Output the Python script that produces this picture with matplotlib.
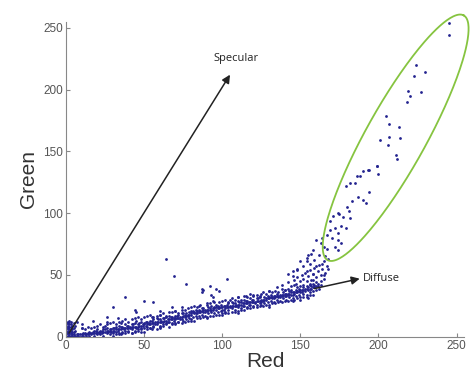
import matplotlib as mpl
mpl.use('Agg')
import matplotlib.pyplot as plt
import numpy as np

# pixel pairs as (red, green)
origin_pts = [(0,0),(0,2),(0,4),(0,6),(0,8),(1,1),(1,3),(1,5),(1,7),(1,9),(2,2),(2,4),(2,6),(2,10),
              (3,3),(3,5),(3,8),(3,12),(4,2),(4,6),(4,9),(5,4),(5,7),(5,11),(6,5),(6,9),(7,12),(1,12),
              (2,13),(0,10),(1,0),(2,1),(3,1),(4,4),(0,12),(1,11),(2,8),(3,10)]

band_pts = [(5,1),(6,0),(7,2),(8,1),(9,0),(10,2),(11,1),(12,3),(13,1),(14,2),(15,4),(15,1),(16,2),(17,3),
            (18,1),(18,5),(19,3),(20,2),(20,6),(21,4),(22,2),(22,5),(23,3),(24,6),(24,1),(25,4),(26,7),
            (26,3),(27,5),(28,2),(28,6),(29,4),(30,7),(30,3),
            (31,5),(32,8),(32,4),(33,6),(34,3),(34,9),(35,6),(36,8),(36,4),(37,7),(38,5),(38,10),(39,7),
            (40,9),(40,5),(41,7),(42,10),(42,6),(43,8),(44,5),(44,11),(45,8),(46,10),(46,6),(47,9),(48,7),
            (48,12),(49,9),(50,11),(50,7),(35,2),(42,3),(48,4),(55,6),
            (51,9),(52,12),(52,8),(53,10),(54,13),(54,7),(55,11),(56,9),(56,14),(57,12),(58,10),(58,15),
            (59,12),(60,14),(60,9),(61,12),(62,15),(62,10),(63,13),(64,11),(64,16),(65,14),(66,12),(66,17),
            (67,14),(68,16),(68,11),(69,13),(70,17),(70,14),(71,15),(72,18),(72,12),(73,16),(74,19),(74,14),
            (75,17),(75,13),
            (76,16),(77,19),(77,14),(78,17),(79,20),(79,15),(80,18),(81,16),(81,21),(82,19),(83,17),(83,22),
            (84,19),(85,17),(85,22),(86,20),(87,18),(87,23),(88,20),(89,22),(89,17),(90,21),(91,19),(91,24),
            (92,22),(93,20),(93,25),(94,22),(95,19),(95,24),(96,22),(97,25),(97,20),(98,23),(99,21),(99,26),
            (100,24),(100,19),
            (101,22),(102,25),(102,20),(103,24),(104,27),(104,22),(105,25),(106,23),(106,28),(107,25),
            (108,27),(108,22),(109,26),(110,24),(110,29),(111,26),(112,28),(112,23),(113,27),(114,25),
            (114,30),(115,27),(116,29),(116,24),(117,28),(118,26),(118,31),(119,28),(120,30),(120,25),
            (121,28),(122,31),(122,26),(123,29),(124,27),(124,32),(125,30),(125,26),
            (126,29),(127,32),(127,27),(128,30),(129,33),(129,28),(130,31),(131,29),(131,34),(132,31),
            (133,33),(133,28),(134,32),(135,30),(135,35),(136,32),(137,34),(137,29),(138,33),(139,31),
            (139,36),(140,33),(141,35),(141,30),(142,34),(143,32),(143,37),(144,34),(145,36),(145,31),
            (146,35),(147,33),(147,38),(148,36),(149,34),(149,39),(150,36),(150,32),(151,38),(152,35),
            (152,40),(153,37),(154,34),(154,41),(155,38),(156,36),(156,42),(157,39),(158,37),(158,43),
            (159,40),(160,38),(160,44),(161,41),(162,39),(163,42),
            (4,1),(6,1),(8,2),(10,1),(12,2),(14,3),(16,3),(18,3),(20,4),(22,4),(24,4),(26,5),(28,5),(30,5),
            (32,6),(34,6),(36,7),(38,7),(40,7),(42,8),(44,8),(46,8),(48,9),(50,10),(52,10),(54,10),(56,11),
            (58,12),(60,12),(62,12),(64,13),(66,14),(68,14),(70,15),(72,15),(74,16),(76,18),(78,18),(80,19),
            (82,20),(84,21),(86,21),(88,22),(90,22),(92,23),(94,23),(96,24),(98,24),(100,22),(102,23),
            (104,24),(106,25),(108,25),(110,26),(112,26),(114,27),(116,27),(118,28),(120,28),(122,29),
            (124,29),(126,30),(128,31),(130,32),(132,32),(134,33),(136,33),(138,34),(140,35),(142,35),
            (144,36),(146,36),(148,37),(150,38),(152,38),(154,39),(156,39),(158,40),(160,41),
            (3,0),(5,2),(7,1),(9,2),(11,3),(13,2),(15,3),(17,4),(19,5),(21,3),(23,5),(25,6),(27,4),(29,6),
            (31,7),(33,5),(35,8),(37,6),(39,9),(41,8),(43,10),(45,7),(47,11),(49,10),(51,12),(53,11),
            (55,13),(57,10),(59,14),(61,13),(63,15),(65,12),(67,16),(69,15),(71,17),(73,14),(75,19),
            (77,17),(79,18),(81,20),(83,19),(85,20),(87,21),(89,20),(91,22),(93,22),(95,23),(97,23),
            (99,24),(101,25),(103,26),(105,24),(107,27),(109,25),(111,28),(113,25),(115,29),(117,26),
            (119,30),(121,27),(123,31),(125,28),(127,30),(129,31),(131,32),(133,31),(135,33),(137,32),
            (139,34),(141,33),(143,35),(145,34),(147,36),(149,37),(151,36),(153,39),(155,40),(157,41),
            (159,42),(161,43),(163,45),(165,47),
            (60,7),(80,13),(110,19),(130,24),(145,29),(155,31),(70,10),(90,15)]

# upper and lower edges of the band
band_edge_pts = [(10,7),(14,8),(18,8),(22,10),(26,10),(30,12),(34,12),(38,14),(42,14),(46,16),(50,16),
                 (54,18),(58,17),(62,19),(66,20),(70,21),(74,22),(78,23),(82,25),(86,26),(90,26),(94,29),
                 (98,28),(102,30),(106,31),(110,32),(114,33),(118,35),(122,34),(126,36),(130,37),(134,37),
                 (138,39),(142,39),(146,42),(150,41),(154,45),(158,46),
                 (30,1),(34,2),(38,3),(42,3),(46,5),(50,4),(54,7),(58,6),(62,9),(66,8),(70,11),(74,11),
                 (78,13),(82,13),(86,15),(90,16),(94,17),(98,18),(102,19),(106,20),(110,21),(114,22),
                 (118,23),(122,24),(126,25),(130,26),(134,27),(138,28),(142,29),(146,30),(150,30),(154,32),
                 (158,34),
                 (12,6),(16,7),(20,9),(24,8),(28,11),(32,10),(36,13),(40,12),(44,15),(48,14),(52,17),(56,16),
                 (60,18),(64,17),(68,20),(72,19),(76,22),(80,21),(84,24),(88,23),(92,27),(96,26),(100,29),
                 (104,28),(108,30),(112,30),(116,32),(120,33),(124,33),(128,35),(132,36),(136,36),(140,38),
                 (144,38),(148,40),(152,42),(156,43),
                 (32,2),(36,3),(40,4),(44,4),(48,6),(52,6),(56,8),(60,8),(64,10),(68,10),(72,12),(76,12),
                 (80,14),(84,15),(88,16),(92,17),(96,18),(100,18),(104,19),(108,20),(112,22),(116,23),
                 (120,24),(124,25),(128,26),(132,27),(136,28),(140,29),(144,30),(148,31),(152,32),(156,34)]

upper_pts = [(130,37),(135,40),(138,42),(140,38),(142,44),(144,41),(146,46),(147,43),(148,48),(150,45),
             (151,50),(152,47),(153,52),(155,49),(156,54),(157,46),(158,51),(159,56),(160,48),(161,53),
             (162,58),(163,50),(164,55),(165,61),(166,52),(167,57),(168,63),(120,34),(125,35),(110,32),
             (105,30),(115,33),(95,28),(90,27),(85,25),(80,24),(70,21),(60,18),(55,16),(45,13),(35,11),
             (25,9),
             (155,66),(154,61),(148,54),(142,51),(145,49),
             (199,138),(194,135),(190,134),(200,132),(186,130),(188,130),(182,124),(185,124),(179,122),
             (194,117),(187,113),(183,110),(190,111),(192,108),(180,105),(181,102),(174,100),(175,99),
             (171,98),(177,97),(182,96),(169,94),(176,90),(172,88),(169,86),(179,88),(174,84),(167,82),
             (170,80),(174,78),(176,76),(172,73),(164,80),(160,78),(165,73),(163,76),(167,71),(174,70),
             (158,70),(157,67),(162,66),(166,65),(154,64),(159,62),(150,61),(156,59),(164,59),(152,57),
             (160,57),(168,55),(148,55),(145,53),(154,53),(158,51),(165,50)]

ellipse_pts = [(245,254),(256,255),(245,244),(224,220),(230,214),(223,211),(219,199),(220,195),(227,198),
               (218,190),(205,179),(207,172),(213,170),(201,159),(207,162),(214,161),(206,155),(211,147),
               (212,144),(199,138),(193,135)]

outlier_pts = [(64,63),(69,49),(77,43),(103,47),(38,32),(50,29),(56,28),(30,24),(87,39),(87,36),(92,41),
               (96,39),(98,37),(94,32),(44,22),(45,20),(68,24),(74,24),(60,21),(17,13),(10,10),(10,7),
               (26,16),(26,12),(33,15),(88,38),(93,34)]

pts = origin_pts + band_pts + band_edge_pts + upper_pts + ellipse_pts + outlier_pts
red = [p[0] for p in pts]
green = [p[1] for p in pts]

fig = plt.figure(figsize=(4.71, 3.78), dpi=100)
ax = fig.add_axes([0.140, 0.109, 0.846, 0.834])

ax.plot(red, green, '.', color='#23238f', ms=4.0, mew=0)

ax.set_xlim(0, 255)
ax.set_ylim(0, 255)
ax.set_xticks([0, 50, 100, 150, 200, 250])
ax.set_yticks([0, 50, 100, 150, 200, 250])
for s in ['top', 'right']:
    ax.spines[s].set_visible(False)
for s in ['left', 'bottom']:
    ax.spines[s].set_color('#888888')
    ax.spines[s].set_linewidth(0.8)
ax.tick_params(direction='in', length=3, color='#888888', labelcolor='#555555',
               labelsize=8.5, pad=2)
for lab in ax.get_xticklabels() + ax.get_yticklabels():
    lab.set_family('Liberation Sans')

ax.set_xlabel('Red', fontsize=15, family='Liberation Sans', color='#333333', labelpad=0)
ax.set_ylabel('Green', fontsize=15, family='Liberation Sans', color='#333333', labelpad=4)

# arrows
ax.annotate('', xy=(105, 212), xytext=(2, 3),
            arrowprops=dict(arrowstyle='-|>', color='#222222', lw=1.1, mutation_scale=12,
                            shrinkA=0, shrinkB=0))
ax.text(109, 225, 'Specular', ha='center', va='center', fontsize=8, family='Open Sans', color='#222222')
ax.annotate('', xy=(188, 47), xytext=(159, 39),
            arrowprops=dict(arrowstyle='-|>', color='#222222', lw=1.1, mutation_scale=12,
                            shrinkA=0, shrinkB=0))
ax.text(190, 47, 'Diffuse', ha='left', va='center', fontsize=8, family='Open Sans', color='#222222')

# green ellipse (drawn in pixel units, converted to data)
sx, sy = 1.563, 1.236
cx, cy = 211.0, 161.0
a, b = 140.0, 30.0
th = np.deg2rad(60.9)
t = np.linspace(0, 2 * np.pi, 300)
ex = a * np.cos(t) * np.cos(th) - b * np.sin(t) * np.sin(th)
ey = a * np.cos(t) * np.sin(th) + b * np.sin(t) * np.cos(th)
ax.plot(cx + ex / sx, cy + ey / sy, color='#86c440', lw=1.3, clip_on=False)

fig.savefig('out.png', dpi=100)
